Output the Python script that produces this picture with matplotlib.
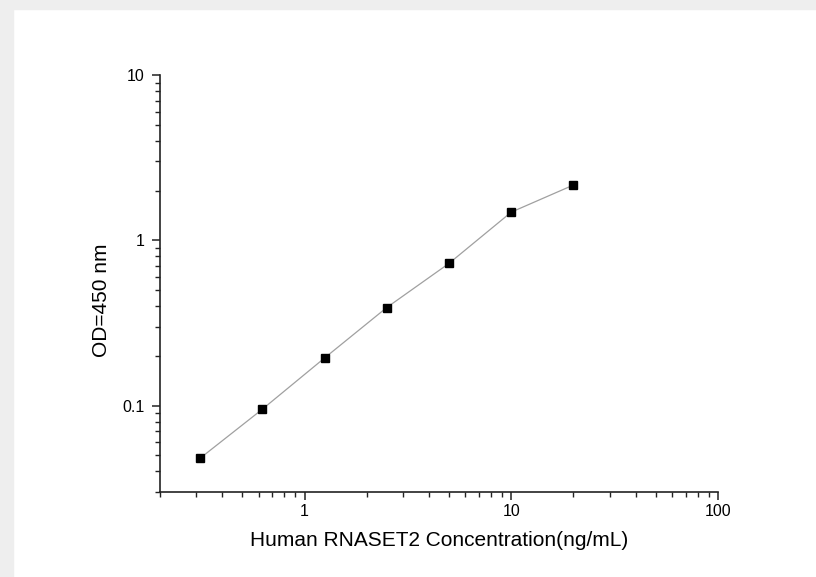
import matplotlib
matplotlib.use('Agg')
import matplotlib.pyplot as plt
from matplotlib.patches import Rectangle
from matplotlib.ticker import LogLocator, FixedLocator, FixedFormatter, NullFormatter

# standard curve data
conc = [0.3125, 0.625, 1.25, 2.5, 5, 10, 20]
od = [0.048, 0.095, 0.194, 0.392, 0.725, 1.48, 2.16]

x_ticks = [1, 10, 100]
x_labels = ['1', '10', '100']
y_ticks = [0.1, 1, 10]
y_labels = ['0.1', '1', '10']

plt.rcParams['font.family'] = ['Liberation Sans', 'DejaVu Sans']

fig = plt.figure(figsize=(8.16, 5.77), dpi=100)
# light gray frame on top and left
fig.patches.append(Rectangle((0, 0), 13/816, 1, transform=fig.transFigure, color='#eeeeee', zorder=0))
fig.patches.append(Rectangle((0, 1 - 9/577), 1, 9/577, transform=fig.transFigure, color='#eeeeee', zorder=0))

ax = fig.add_axes([160/816, 1 - 492/577, (718 - 160)/816, (492 - 75)/577])
ax.plot(conc, od, color='#a0a0a0', lw=0.9, marker='s', ms=5.5,
        mfc='black', mec='black', zorder=3)

ax.set_xscale('log')
ax.set_yscale('log')
ax.set_xlim(0.2, 100)
ax.set_ylim(0.03, 10)

ax.xaxis.set_major_locator(FixedLocator(x_ticks))
ax.xaxis.set_major_formatter(FixedFormatter(x_labels))
ax.yaxis.set_major_locator(FixedLocator(y_ticks))
ax.yaxis.set_major_formatter(FixedFormatter(y_labels))
ax.xaxis.set_minor_locator(LogLocator(base=10, subs=range(2, 10), numticks=20))
ax.yaxis.set_minor_locator(LogLocator(base=10, subs=range(2, 10), numticks=20))
ax.xaxis.set_minor_formatter(NullFormatter())
ax.yaxis.set_minor_formatter(NullFormatter())

for s in ['top', 'right']:
    ax.spines[s].set_visible(False)
for s in ['left', 'bottom']:
    ax.spines[s].set_linewidth(1.2)
    ax.spines[s].set_color('#222222')

ax.tick_params(which='major', direction='out', length=6, width=1.1, labelsize=11.5, color='#222222', pad=3)
ax.tick_params(axis='y', which='major', pad=5)
ax.tick_params(which='minor', direction='out', length=3.5, width=1.0, color='#222222')

ax.set_xlabel('Human RNASET2 Concentration(ng/mL)', fontsize=15, labelpad=8)
ax.set_ylabel('OD=450 nm', fontsize=15, labelpad=8)
ax.yaxis.label.set_y(0.46)

fig.savefig('out.png', dpi=100)
